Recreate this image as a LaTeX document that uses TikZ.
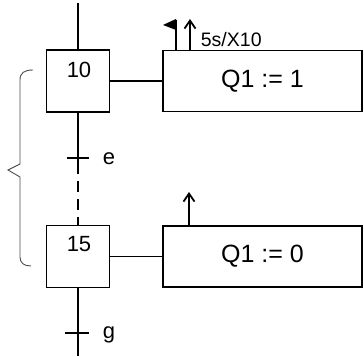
\documentclass[tikz,border=0pt]{standalone}
\usepackage{fontspec}
\setmainfont{Liberation Sans}
\usetikzlibrary{arrows.meta}
\begin{document}
\begin{tikzpicture}[x=1pt,y=1pt,
  line width=1.8pt,
  stepbox/.style={draw, minimum width=63pt, minimum height=62pt, inner sep=0pt},
  actbox/.style={draw, minimum width=199pt, minimum height=61pt, inner sep=0pt,
    font=\fontsize{25}{28}\selectfont},
  stepnum/.style={font=\fontsize{22}{24}\selectfont, inner sep=0pt},
  condlabel/.style={font=\fontsize{22}{24}\selectfont, inner sep=0pt, anchor=base west},
  timelabel/.style={font=\fontsize{19.5}{22}\selectfont, inner sep=0pt, anchor=base west},
  risearrow/.style={-{Straight Barb[length=8pt,width=11pt,line width=1.8pt]}},
  bracestyle/.style={draw=black!70, line width=0.9pt}
]
\useasboundingbox (0,0) rectangle (364,356);

% steps and their actions
\node[stepbox] (s10) at (78,275) {};
\node[stepnum] (n10) at (79,286) {10};
\node[actbox] (a10) at (262.5,275) {Q1 := 1};

\node[stepbox] (s15) at (78,99.5) {};
\node[stepnum] (n15) at (79,112) {15};
\node[actbox] (a15) at (262.5,99.5) {Q1 := 0};

\draw (s10.east) -- (a10.west);
\draw (s15.east) -- (a15.west);

% link into step 10
\coordinate (top) at (78,353);
\draw (top) -- (s10.north);

% transition e, then the omitted part of the sequence
\coordinate (teL) at (67,198);
\coordinate (teR) at (89,198);
\coordinate (dashstart) at (78,193);
\draw (s10.south) -- (dashstart);
\draw (teL) -- (teR);
\draw[dash pattern=on 11pt off 7pt] (dashstart) -- (s15.north);
\node[condlabel] (le) at (102,191) {e};

% transition g
\coordinate (bottom) at (78,0);
\coordinate (tgL) at (65,23);
\coordinate (tgR) at (89,23);
\draw (s15.south) -- (bottom);
\draw (tgL) -- (tgR);
\node[condlabel] (lg) at (102,17) {g};

% timed action qualifier on step 10
\coordinate (flagfoot) at (176,305.5);
\coordinate (flagtop) at (176,336);
\draw (flagfoot) -- (flagtop);
\fill (176,337) -- (163,331) -- (176,326) -- cycle;
\coordinate (arrfoot) at (190,305.5);
\coordinate (arrtop) at (190,337);
\draw[risearrow] (arrfoot) -- (arrtop);
\node[timelabel] (t10) at (200,309) {5s/X10};

% rising edge on step 15
\coordinate (arr2foot) at (189,130);
\coordinate (arr2top) at (189,164);
\draw[risearrow] (arr2foot) -- (arr2top);

% brace grouping steps 10 to 15
\draw[bracestyle] (33,286) .. controls (24,286) and (20,283) .. (20,276)
  -- (20,192) -- (8,186) -- (20,179) -- (20,99)
  .. controls (20,93) and (24,90) .. (31,90);
\end{tikzpicture}
\end{document}
